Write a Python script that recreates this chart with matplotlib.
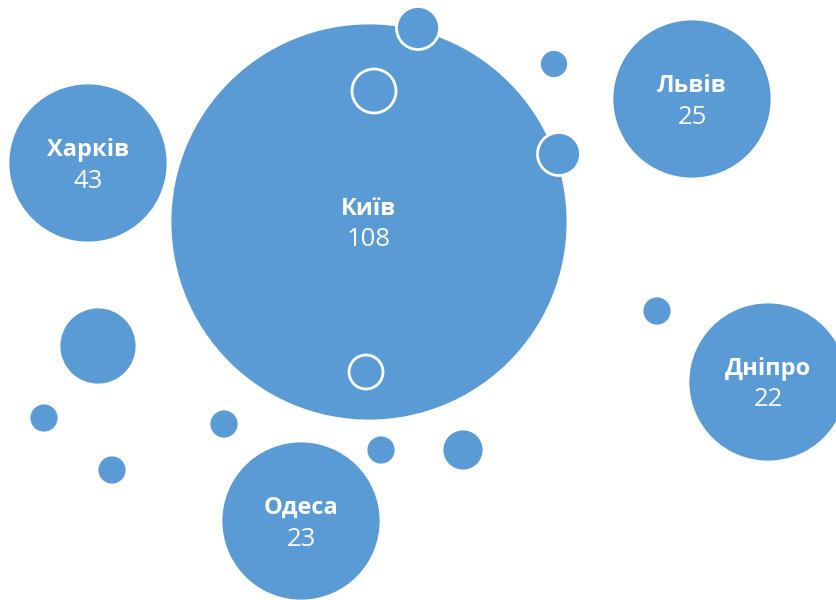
import matplotlib.pyplot as plt
from matplotlib.patches import Circle

# bubble positions (chart units, y grows downward) and radii
bubble_x = [369, 88, 692, 768, 301, 418, 374, 554, 559, 98, 657, 44, 224, 112, 381, 463, 366]
bubble_y = [222, 163, 99, 382, 521, 28, 91, 64, 154, 346, 311, 418, 424, 470, 450, 450, 372]
bubble_r = [199, 80, 80, 80, 80, 21.5, 22, 14.5, 21.5, 39, 15, 15, 15, 15, 15, 21, 17]

# labelled bubbles: index into the arrays above
label_idx = [0, 1, 2, 3, 4]
label_names = ['Київ', 'Харків', 'Львів', 'Дніпро', 'Одеса']
label_values = [108, 43, 25, 22, 23]

fill = '#5B9BD5'

fig = plt.figure(figsize=(8.37, 6.0), dpi=100)
ax = fig.add_axes([0, 0, 1, 1])
ax.set_xlim(0, 837)
ax.set_ylim(600, 0)
ax.set_aspect('equal')
ax.axis('off')

for x, y, r in zip(bubble_x, bubble_y, bubble_r):
    ax.add_patch(Circle((x, y), r, facecolor=fill, edgecolor='white', linewidth=2.0))

fam = ['Open Sans', 'DejaVu Sans']
for i, name, val in zip(label_idx, label_names, label_values):
    x, y = bubble_x[i], bubble_y[i]
    ax.text(x, y - 7, name, ha='center', va='baseline', color='white',
            fontsize=17, fontweight='bold', family=fam)
    ax.text(x, y + 24.5, str(val), ha='center', va='baseline', color='white',
            fontsize=18.5, family=fam)

fig.savefig('out.png', dpi=100, facecolor='white')
